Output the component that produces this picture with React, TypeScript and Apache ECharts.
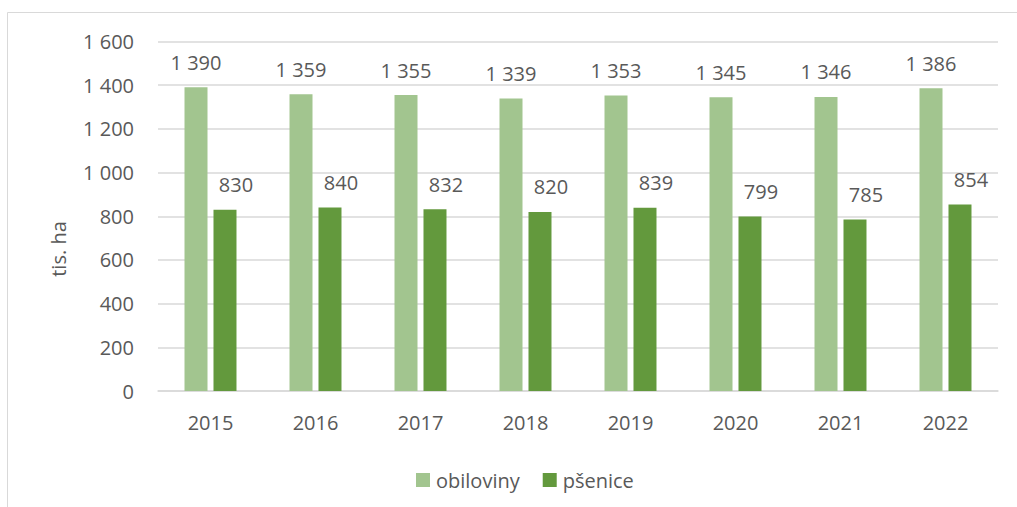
import React, { useEffect, useRef } from "react";
import * as echarts from "echarts";

const categories = ["2015", "2016", "2017", "2018", "2019", "2020", "2021", "2022"];
const obiloviny = [1390, 1359, 1355, 1339, 1353, 1345, 1346, 1386];
const psenice = [830, 840, 832, 820, 839, 799, 785, 854];
const seriesNames = ["obiloviny", "pšenice"];
const yTitle = "tis. ha";

const FONT = "'Open Sans', sans-serif";
const TXT = "#595959";

const fmt = (v: number) => {
  const s = String(Math.round(v));
  return s.replace(/\B(?=(\d{3})+(?!\d))/g, " ");
};

export default function App() {
  const ref = useRef<HTMLDivElement>(null);
  useEffect(() => {
    if (!ref.current) return;
    const chart = echarts.init(ref.current, null, { renderer: "svg" });
    chart.setOption({
      animation: false,
      backgroundColor: "#ffffff",
      textStyle: { fontFamily: FONT },
      grid: { left: 158, right: 19, top: 41.5, bottom: 116, containLabel: false },
      legend: {
        left: 411,
        top: 465,
        itemWidth: 14,
        itemHeight: 14,
        itemGap: 23,
        icon: "rect",
        textStyle: { fontFamily: FONT, fontSize: 20, color: TXT, padding: [0, 0, 0, 1] },
        data: seriesNames,
      },
      graphic: [
        {
          type: "rect",
          shape: { x: 7.5, y: 12.5, width: 1030, height: 520 },
          style: { fill: "none", stroke: "#d9d9d9", lineWidth: 1 },
          silent: true,
        },
        {
          type: "text",
          x: 58,
          y: 249,
          rotation: Math.PI / 2,
          style: {
            text: yTitle,
            fontFamily: FONT,
            fontSize: 20,
            fill: TXT,
            align: "center",
            verticalAlign: "middle",
          },
        },
      ],
      xAxis: {
        type: "category",
        data: categories,
        axisLine: { show: true, lineStyle: { color: "#d9d9d9", width: 1.5 } },
        axisTick: { show: false },
        axisLabel: { fontFamily: FONT, fontSize: 20, color: TXT, margin: 21 },
      },
      yAxis: {
        type: "value",
        min: 0,
        max: 1600,
        interval: 200,
        axisLine: { show: false },
        axisTick: { show: false },
        splitLine: { lineStyle: { color: "#d9d9d9", width: 1.5 } },
        axisLabel: { fontFamily: FONT, fontSize: 20, color: TXT, margin: 24, formatter: (v: number) => fmt(v) },
      },
      series: [
        {
          name: seriesNames[0],
          type: "bar",
          data: obiloviny,
          barWidth: 23,
          barGap: "26%",
          itemStyle: { color: "#a2c58f" },
          label: {
            show: true,
            position: "top",
            distance: 15,
            fontFamily: FONT,
            fontSize: 20,
            color: TXT,
            formatter: (p: any) => fmt(p.value),
          },
        },
        {
          name: seriesNames[1],
          type: "bar",
          data: psenice,
          barWidth: 23,
          barGap: "26%",
          itemStyle: { color: "#63993d" },
          label: {
            show: true,
            position: "top",
            distance: 15,
            offset: [11, 0],
            fontFamily: FONT,
            fontSize: 20,
            color: TXT,
            formatter: (p: any) => fmt(p.value),
          },
        },
      ],
    });
    return () => chart.dispose();
  }, []);
  return (
    <div
      ref={ref}
      style={{ position: "fixed", left: 0, top: 0, width: 1017, height: 507, background: "#fff" }}
    />
  );
}
